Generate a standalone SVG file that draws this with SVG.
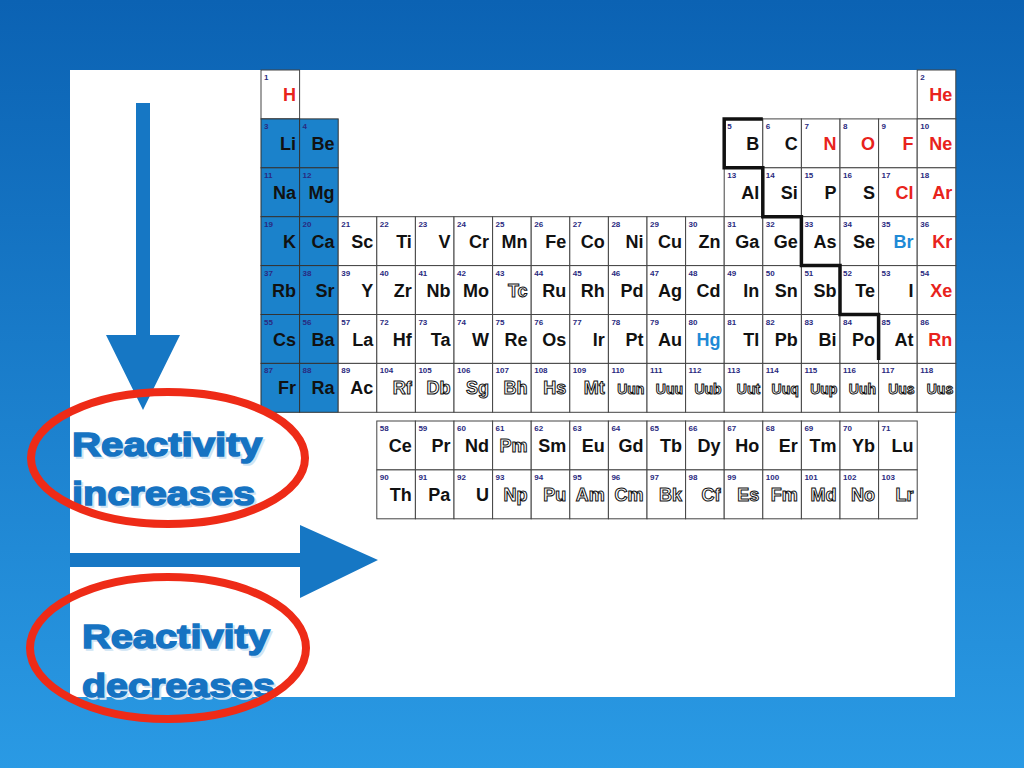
<svg xmlns="http://www.w3.org/2000/svg" width="1024" height="768" viewBox="0 0 1024 768">
<defs>
<linearGradient id="bg" x1="0" y1="0" x2="0" y2="1"><stop offset="0" stop-color="#0b62b3"/><stop offset="1" stop-color="#2a9ae4"/></linearGradient>
<style>
.c{fill:#fff;stroke:#444;stroke-width:1}
.b{fill:#1b82cb;stroke:#333;stroke-width:1}
.n{font-family:"Liberation Sans",Arial,sans-serif;font-size:8px;font-weight:bold;fill:#2a2a80}
.s{font-family:"Liberation Sans Narrow","Liberation Sans",Arial,sans-serif;font-size:18px;font-weight:bold;fill:#111;text-anchor:end}
.r{fill:#e8231c}.l{fill:#1f8ad6}
.o{fill:#fff;stroke:#111;stroke-width:1}
.t{font-size:14px}
.big{font-family:"Liberation Sans",Arial,sans-serif;font-size:34px;font-weight:900;fill:#1673c2;stroke:#1673c2;stroke-width:1.5}
.sh{font-family:"Liberation Sans",Arial,sans-serif;font-size:34px;font-weight:900;fill:#cfe4f4;stroke:#cfe4f4;stroke-width:1.5}
</style>
</defs>
<rect width="1024" height="768" fill="url(#bg)"/>
<rect x="70" y="70" width="885" height="627" fill="#fff"/>
<g id="table">
<g id="H" transform="translate(261,70)"><rect class="c" width="38.6" height="48.9"/><text class="n" x="3" y="10">1</text><text class="s r" x="35" y="31">H</text></g>
<g id="He" transform="translate(917.2,70)"><rect class="c" width="38.6" height="48.9"/><text class="n" x="3" y="10">2</text><text class="s r" x="35" y="31">He</text></g>
<g id="Li" transform="translate(261,118.9)"><rect class="b" width="38.6" height="48.9"/><text class="n" x="3" y="10">3</text><text class="s" x="35" y="31">Li</text></g>
<g id="Be" transform="translate(299.6,118.9)"><rect class="b" width="38.6" height="48.9"/><text class="n" x="3" y="10">4</text><text class="s" x="35" y="31">Be</text></g>
<g id="B" transform="translate(724.2,118.9)"><rect class="c" width="38.6" height="48.9"/><text class="n" x="3" y="10">5</text><text class="s" x="35" y="31">B</text></g>
<g id="C" transform="translate(762.8,118.9)"><rect class="c" width="38.6" height="48.9"/><text class="n" x="3" y="10">6</text><text class="s" x="35" y="31">C</text></g>
<g id="N" transform="translate(801.4,118.9)"><rect class="c" width="38.6" height="48.9"/><text class="n" x="3" y="10">7</text><text class="s r" x="35" y="31">N</text></g>
<g id="O" transform="translate(840,118.9)"><rect class="c" width="38.6" height="48.9"/><text class="n" x="3" y="10">8</text><text class="s r" x="35" y="31">O</text></g>
<g id="F" transform="translate(878.6,118.9)"><rect class="c" width="38.6" height="48.9"/><text class="n" x="3" y="10">9</text><text class="s r" x="35" y="31">F</text></g>
<g id="Ne" transform="translate(917.2,118.9)"><rect class="c" width="38.6" height="48.9"/><text class="n" x="3" y="10">10</text><text class="s r" x="35" y="31">Ne</text></g>
<g id="Na" transform="translate(261,167.8)"><rect class="b" width="38.6" height="48.9"/><text class="n" x="3" y="10">11</text><text class="s" x="35" y="31">Na</text></g>
<g id="Mg" transform="translate(299.6,167.8)"><rect class="b" width="38.6" height="48.9"/><text class="n" x="3" y="10">12</text><text class="s" x="35" y="31">Mg</text></g>
<g id="Al" transform="translate(724.2,167.8)"><rect class="c" width="38.6" height="48.9"/><text class="n" x="3" y="10">13</text><text class="s" x="35" y="31">Al</text></g>
<g id="Si" transform="translate(762.8,167.8)"><rect class="c" width="38.6" height="48.9"/><text class="n" x="3" y="10">14</text><text class="s" x="35" y="31">Si</text></g>
<g id="P" transform="translate(801.4,167.8)"><rect class="c" width="38.6" height="48.9"/><text class="n" x="3" y="10">15</text><text class="s" x="35" y="31">P</text></g>
<g id="S" transform="translate(840,167.8)"><rect class="c" width="38.6" height="48.9"/><text class="n" x="3" y="10">16</text><text class="s" x="35" y="31">S</text></g>
<g id="Cl" transform="translate(878.6,167.8)"><rect class="c" width="38.6" height="48.9"/><text class="n" x="3" y="10">17</text><text class="s r" x="35" y="31">Cl</text></g>
<g id="Ar" transform="translate(917.2,167.8)"><rect class="c" width="38.6" height="48.9"/><text class="n" x="3" y="10">18</text><text class="s r" x="35" y="31">Ar</text></g>
<g id="K" transform="translate(261,216.7)"><rect class="b" width="38.6" height="48.9"/><text class="n" x="3" y="10">19</text><text class="s" x="35" y="31">K</text></g>
<g id="Ca" transform="translate(299.6,216.7)"><rect class="b" width="38.6" height="48.9"/><text class="n" x="3" y="10">20</text><text class="s" x="35" y="31">Ca</text></g>
<g id="Sc" transform="translate(338.2,216.7)"><rect class="c" width="38.6" height="48.9"/><text class="n" x="3" y="10">21</text><text class="s" x="35" y="31">Sc</text></g>
<g id="Ti" transform="translate(376.8,216.7)"><rect class="c" width="38.6" height="48.9"/><text class="n" x="3" y="10">22</text><text class="s" x="35" y="31">Ti</text></g>
<g id="V" transform="translate(415.4,216.7)"><rect class="c" width="38.6" height="48.9"/><text class="n" x="3" y="10">23</text><text class="s" x="35" y="31">V</text></g>
<g id="Cr" transform="translate(454,216.7)"><rect class="c" width="38.6" height="48.9"/><text class="n" x="3" y="10">24</text><text class="s" x="35" y="31">Cr</text></g>
<g id="Mn" transform="translate(492.6,216.7)"><rect class="c" width="38.6" height="48.9"/><text class="n" x="3" y="10">25</text><text class="s" x="35" y="31">Mn</text></g>
<g id="Fe" transform="translate(531.2,216.7)"><rect class="c" width="38.6" height="48.9"/><text class="n" x="3" y="10">26</text><text class="s" x="35" y="31">Fe</text></g>
<g id="Co" transform="translate(569.8,216.7)"><rect class="c" width="38.6" height="48.9"/><text class="n" x="3" y="10">27</text><text class="s" x="35" y="31">Co</text></g>
<g id="Ni" transform="translate(608.4,216.7)"><rect class="c" width="38.6" height="48.9"/><text class="n" x="3" y="10">28</text><text class="s" x="35" y="31">Ni</text></g>
<g id="Cu" transform="translate(647,216.7)"><rect class="c" width="38.6" height="48.9"/><text class="n" x="3" y="10">29</text><text class="s" x="35" y="31">Cu</text></g>
<g id="Zn" transform="translate(685.6,216.7)"><rect class="c" width="38.6" height="48.9"/><text class="n" x="3" y="10">30</text><text class="s" x="35" y="31">Zn</text></g>
<g id="Ga" transform="translate(724.2,216.7)"><rect class="c" width="38.6" height="48.9"/><text class="n" x="3" y="10">31</text><text class="s" x="35" y="31">Ga</text></g>
<g id="Ge" transform="translate(762.8,216.7)"><rect class="c" width="38.6" height="48.9"/><text class="n" x="3" y="10">32</text><text class="s" x="35" y="31">Ge</text></g>
<g id="As" transform="translate(801.4,216.7)"><rect class="c" width="38.6" height="48.9"/><text class="n" x="3" y="10">33</text><text class="s" x="35" y="31">As</text></g>
<g id="Se" transform="translate(840,216.7)"><rect class="c" width="38.6" height="48.9"/><text class="n" x="3" y="10">34</text><text class="s" x="35" y="31">Se</text></g>
<g id="Br" transform="translate(878.6,216.7)"><rect class="c" width="38.6" height="48.9"/><text class="n" x="3" y="10">35</text><text class="s l" x="35" y="31">Br</text></g>
<g id="Kr" transform="translate(917.2,216.7)"><rect class="c" width="38.6" height="48.9"/><text class="n" x="3" y="10">36</text><text class="s r" x="35" y="31">Kr</text></g>
<g id="Rb" transform="translate(261,265.6)"><rect class="b" width="38.6" height="48.9"/><text class="n" x="3" y="10">37</text><text class="s" x="35" y="31">Rb</text></g>
<g id="Sr" transform="translate(299.6,265.6)"><rect class="b" width="38.6" height="48.9"/><text class="n" x="3" y="10">38</text><text class="s" x="35" y="31">Sr</text></g>
<g id="Y" transform="translate(338.2,265.6)"><rect class="c" width="38.6" height="48.9"/><text class="n" x="3" y="10">39</text><text class="s" x="35" y="31">Y</text></g>
<g id="Zr" transform="translate(376.8,265.6)"><rect class="c" width="38.6" height="48.9"/><text class="n" x="3" y="10">40</text><text class="s" x="35" y="31">Zr</text></g>
<g id="Nb" transform="translate(415.4,265.6)"><rect class="c" width="38.6" height="48.9"/><text class="n" x="3" y="10">41</text><text class="s" x="35" y="31">Nb</text></g>
<g id="Mo" transform="translate(454,265.6)"><rect class="c" width="38.6" height="48.9"/><text class="n" x="3" y="10">42</text><text class="s" x="35" y="31">Mo</text></g>
<g id="Tc" transform="translate(492.6,265.6)"><rect class="c" width="38.6" height="48.9"/><text class="n" x="3" y="10">43</text><text class="s o" x="35" y="31">Tc</text></g>
<g id="Ru" transform="translate(531.2,265.6)"><rect class="c" width="38.6" height="48.9"/><text class="n" x="3" y="10">44</text><text class="s" x="35" y="31">Ru</text></g>
<g id="Rh" transform="translate(569.8,265.6)"><rect class="c" width="38.6" height="48.9"/><text class="n" x="3" y="10">45</text><text class="s" x="35" y="31">Rh</text></g>
<g id="Pd" transform="translate(608.4,265.6)"><rect class="c" width="38.6" height="48.9"/><text class="n" x="3" y="10">46</text><text class="s" x="35" y="31">Pd</text></g>
<g id="Ag" transform="translate(647,265.6)"><rect class="c" width="38.6" height="48.9"/><text class="n" x="3" y="10">47</text><text class="s" x="35" y="31">Ag</text></g>
<g id="Cd" transform="translate(685.6,265.6)"><rect class="c" width="38.6" height="48.9"/><text class="n" x="3" y="10">48</text><text class="s" x="35" y="31">Cd</text></g>
<g id="In" transform="translate(724.2,265.6)"><rect class="c" width="38.6" height="48.9"/><text class="n" x="3" y="10">49</text><text class="s" x="35" y="31">In</text></g>
<g id="Sn" transform="translate(762.8,265.6)"><rect class="c" width="38.6" height="48.9"/><text class="n" x="3" y="10">50</text><text class="s" x="35" y="31">Sn</text></g>
<g id="Sb" transform="translate(801.4,265.6)"><rect class="c" width="38.6" height="48.9"/><text class="n" x="3" y="10">51</text><text class="s" x="35" y="31">Sb</text></g>
<g id="Te" transform="translate(840,265.6)"><rect class="c" width="38.6" height="48.9"/><text class="n" x="3" y="10">52</text><text class="s" x="35" y="31">Te</text></g>
<g id="I" transform="translate(878.6,265.6)"><rect class="c" width="38.6" height="48.9"/><text class="n" x="3" y="10">53</text><text class="s" x="35" y="31">I</text></g>
<g id="Xe" transform="translate(917.2,265.6)"><rect class="c" width="38.6" height="48.9"/><text class="n" x="3" y="10">54</text><text class="s r" x="35" y="31">Xe</text></g>
<g id="Cs" transform="translate(261,314.5)"><rect class="b" width="38.6" height="48.9"/><text class="n" x="3" y="10">55</text><text class="s" x="35" y="31">Cs</text></g>
<g id="Ba" transform="translate(299.6,314.5)"><rect class="b" width="38.6" height="48.9"/><text class="n" x="3" y="10">56</text><text class="s" x="35" y="31">Ba</text></g>
<g id="La" transform="translate(338.2,314.5)"><rect class="c" width="38.6" height="48.9"/><text class="n" x="3" y="10">57</text><text class="s" x="35" y="31">La</text></g>
<g id="Hf" transform="translate(376.8,314.5)"><rect class="c" width="38.6" height="48.9"/><text class="n" x="3" y="10">72</text><text class="s" x="35" y="31">Hf</text></g>
<g id="Ta" transform="translate(415.4,314.5)"><rect class="c" width="38.6" height="48.9"/><text class="n" x="3" y="10">73</text><text class="s" x="35" y="31">Ta</text></g>
<g id="W" transform="translate(454,314.5)"><rect class="c" width="38.6" height="48.9"/><text class="n" x="3" y="10">74</text><text class="s" x="35" y="31">W</text></g>
<g id="Re" transform="translate(492.6,314.5)"><rect class="c" width="38.6" height="48.9"/><text class="n" x="3" y="10">75</text><text class="s" x="35" y="31">Re</text></g>
<g id="Os" transform="translate(531.2,314.5)"><rect class="c" width="38.6" height="48.9"/><text class="n" x="3" y="10">76</text><text class="s" x="35" y="31">Os</text></g>
<g id="Ir" transform="translate(569.8,314.5)"><rect class="c" width="38.6" height="48.9"/><text class="n" x="3" y="10">77</text><text class="s" x="35" y="31">Ir</text></g>
<g id="Pt" transform="translate(608.4,314.5)"><rect class="c" width="38.6" height="48.9"/><text class="n" x="3" y="10">78</text><text class="s" x="35" y="31">Pt</text></g>
<g id="Au" transform="translate(647,314.5)"><rect class="c" width="38.6" height="48.9"/><text class="n" x="3" y="10">79</text><text class="s" x="35" y="31">Au</text></g>
<g id="Hg" transform="translate(685.6,314.5)"><rect class="c" width="38.6" height="48.9"/><text class="n" x="3" y="10">80</text><text class="s l" x="35" y="31">Hg</text></g>
<g id="Tl" transform="translate(724.2,314.5)"><rect class="c" width="38.6" height="48.9"/><text class="n" x="3" y="10">81</text><text class="s" x="35" y="31">Tl</text></g>
<g id="Pb" transform="translate(762.8,314.5)"><rect class="c" width="38.6" height="48.9"/><text class="n" x="3" y="10">82</text><text class="s" x="35" y="31">Pb</text></g>
<g id="Bi" transform="translate(801.4,314.5)"><rect class="c" width="38.6" height="48.9"/><text class="n" x="3" y="10">83</text><text class="s" x="35" y="31">Bi</text></g>
<g id="Po" transform="translate(840,314.5)"><rect class="c" width="38.6" height="48.9"/><text class="n" x="3" y="10">84</text><text class="s" x="35" y="31">Po</text></g>
<g id="At" transform="translate(878.6,314.5)"><rect class="c" width="38.6" height="48.9"/><text class="n" x="3" y="10">85</text><text class="s" x="35" y="31">At</text></g>
<g id="Rn" transform="translate(917.2,314.5)"><rect class="c" width="38.6" height="48.9"/><text class="n" x="3" y="10">86</text><text class="s r" x="35" y="31">Rn</text></g>
<g id="Fr" transform="translate(261,363.4)"><rect class="b" width="38.6" height="48.9"/><text class="n" x="3" y="10">87</text><text class="s" x="35" y="31">Fr</text></g>
<g id="Ra" transform="translate(299.6,363.4)"><rect class="b" width="38.6" height="48.9"/><text class="n" x="3" y="10">88</text><text class="s" x="35" y="31">Ra</text></g>
<g id="Ac" transform="translate(338.2,363.4)"><rect class="c" width="38.6" height="48.9"/><text class="n" x="3" y="10">89</text><text class="s" x="35" y="31">Ac</text></g>
<g id="Rf" transform="translate(376.8,363.4)"><rect class="c" width="38.6" height="48.9"/><text class="n" x="3" y="10">104</text><text class="s o" x="35" y="31">Rf</text></g>
<g id="Db" transform="translate(415.4,363.4)"><rect class="c" width="38.6" height="48.9"/><text class="n" x="3" y="10">105</text><text class="s o" x="35" y="31">Db</text></g>
<g id="Sg" transform="translate(454,363.4)"><rect class="c" width="38.6" height="48.9"/><text class="n" x="3" y="10">106</text><text class="s o" x="35" y="31">Sg</text></g>
<g id="Bh" transform="translate(492.6,363.4)"><rect class="c" width="38.6" height="48.9"/><text class="n" x="3" y="10">107</text><text class="s o" x="35" y="31">Bh</text></g>
<g id="Hs" transform="translate(531.2,363.4)"><rect class="c" width="38.6" height="48.9"/><text class="n" x="3" y="10">108</text><text class="s o" x="35" y="31">Hs</text></g>
<g id="Mt" transform="translate(569.8,363.4)"><rect class="c" width="38.6" height="48.9"/><text class="n" x="3" y="10">109</text><text class="s o" x="35" y="31">Mt</text></g>
<g id="Uun" transform="translate(608.4,363.4)"><rect class="c" width="38.6" height="48.9"/><text class="n" x="3" y="10">110</text><text class="s o t" x="36" y="31">Uun</text></g>
<g id="Uuu" transform="translate(647,363.4)"><rect class="c" width="38.6" height="48.9"/><text class="n" x="3" y="10">111</text><text class="s o t" x="36" y="31">Uuu</text></g>
<g id="Uub" transform="translate(685.6,363.4)"><rect class="c" width="38.6" height="48.9"/><text class="n" x="3" y="10">112</text><text class="s o t" x="36" y="31">Uub</text></g>
<g id="Uut" transform="translate(724.2,363.4)"><rect class="c" width="38.6" height="48.9"/><text class="n" x="3" y="10">113</text><text class="s o t" x="36" y="31">Uut</text></g>
<g id="Uuq" transform="translate(762.8,363.4)"><rect class="c" width="38.6" height="48.9"/><text class="n" x="3" y="10">114</text><text class="s o t" x="36" y="31">Uuq</text></g>
<g id="Uup" transform="translate(801.4,363.4)"><rect class="c" width="38.6" height="48.9"/><text class="n" x="3" y="10">115</text><text class="s o t" x="36" y="31">Uup</text></g>
<g id="Uuh" transform="translate(840,363.4)"><rect class="c" width="38.6" height="48.9"/><text class="n" x="3" y="10">116</text><text class="s o t" x="36" y="31">Uuh</text></g>
<g id="Uus" transform="translate(878.6,363.4)"><rect class="c" width="38.6" height="48.9"/><text class="n" x="3" y="10">117</text><text class="s o t" x="36" y="31">Uus</text></g>
<g id="Uuo" transform="translate(917.2,363.4)"><rect class="c" width="38.6" height="48.9"/><text class="n" x="3" y="10">118</text><text class="s o t" x="36" y="31">Uus</text></g>
<g id="Ce" transform="translate(376.8,421)"><rect class="c" width="38.6" height="48.9"/><text class="n" x="3" y="10">58</text><text class="s" x="35" y="31">Ce</text></g>
<g id="Pr" transform="translate(415.4,421)"><rect class="c" width="38.6" height="48.9"/><text class="n" x="3" y="10">59</text><text class="s" x="35" y="31">Pr</text></g>
<g id="Nd" transform="translate(454,421)"><rect class="c" width="38.6" height="48.9"/><text class="n" x="3" y="10">60</text><text class="s" x="35" y="31">Nd</text></g>
<g id="Pm" transform="translate(492.6,421)"><rect class="c" width="38.6" height="48.9"/><text class="n" x="3" y="10">61</text><text class="s o" x="35" y="31">Pm</text></g>
<g id="Sm" transform="translate(531.2,421)"><rect class="c" width="38.6" height="48.9"/><text class="n" x="3" y="10">62</text><text class="s" x="35" y="31">Sm</text></g>
<g id="Eu" transform="translate(569.8,421)"><rect class="c" width="38.6" height="48.9"/><text class="n" x="3" y="10">63</text><text class="s" x="35" y="31">Eu</text></g>
<g id="Gd" transform="translate(608.4,421)"><rect class="c" width="38.6" height="48.9"/><text class="n" x="3" y="10">64</text><text class="s" x="35" y="31">Gd</text></g>
<g id="Tb" transform="translate(647,421)"><rect class="c" width="38.6" height="48.9"/><text class="n" x="3" y="10">65</text><text class="s" x="35" y="31">Tb</text></g>
<g id="Dy" transform="translate(685.6,421)"><rect class="c" width="38.6" height="48.9"/><text class="n" x="3" y="10">66</text><text class="s" x="35" y="31">Dy</text></g>
<g id="Ho" transform="translate(724.2,421)"><rect class="c" width="38.6" height="48.9"/><text class="n" x="3" y="10">67</text><text class="s" x="35" y="31">Ho</text></g>
<g id="Er" transform="translate(762.8,421)"><rect class="c" width="38.6" height="48.9"/><text class="n" x="3" y="10">68</text><text class="s" x="35" y="31">Er</text></g>
<g id="Tm" transform="translate(801.4,421)"><rect class="c" width="38.6" height="48.9"/><text class="n" x="3" y="10">69</text><text class="s" x="35" y="31">Tm</text></g>
<g id="Yb" transform="translate(840,421)"><rect class="c" width="38.6" height="48.9"/><text class="n" x="3" y="10">70</text><text class="s" x="35" y="31">Yb</text></g>
<g id="Lu" transform="translate(878.6,421)"><rect class="c" width="38.6" height="48.9"/><text class="n" x="3" y="10">71</text><text class="s" x="35" y="31">Lu</text></g>
<g id="Th" transform="translate(376.8,469.9)"><rect class="c" width="38.6" height="48.9"/><text class="n" x="3" y="10">90</text><text class="s" x="35" y="31">Th</text></g>
<g id="Pa" transform="translate(415.4,469.9)"><rect class="c" width="38.6" height="48.9"/><text class="n" x="3" y="10">91</text><text class="s" x="35" y="31">Pa</text></g>
<g id="U" transform="translate(454,469.9)"><rect class="c" width="38.6" height="48.9"/><text class="n" x="3" y="10">92</text><text class="s" x="35" y="31">U</text></g>
<g id="Np" transform="translate(492.6,469.9)"><rect class="c" width="38.6" height="48.9"/><text class="n" x="3" y="10">93</text><text class="s o" x="35" y="31">Np</text></g>
<g id="Pu" transform="translate(531.2,469.9)"><rect class="c" width="38.6" height="48.9"/><text class="n" x="3" y="10">94</text><text class="s o" x="35" y="31">Pu</text></g>
<g id="Am" transform="translate(569.8,469.9)"><rect class="c" width="38.6" height="48.9"/><text class="n" x="3" y="10">95</text><text class="s o" x="35" y="31">Am</text></g>
<g id="Cm" transform="translate(608.4,469.9)"><rect class="c" width="38.6" height="48.9"/><text class="n" x="3" y="10">96</text><text class="s o" x="35" y="31">Cm</text></g>
<g id="Bk" transform="translate(647,469.9)"><rect class="c" width="38.6" height="48.9"/><text class="n" x="3" y="10">97</text><text class="s o" x="35" y="31">Bk</text></g>
<g id="Cf" transform="translate(685.6,469.9)"><rect class="c" width="38.6" height="48.9"/><text class="n" x="3" y="10">98</text><text class="s o" x="35" y="31">Cf</text></g>
<g id="Es" transform="translate(724.2,469.9)"><rect class="c" width="38.6" height="48.9"/><text class="n" x="3" y="10">99</text><text class="s o" x="35" y="31">Es</text></g>
<g id="Fm" transform="translate(762.8,469.9)"><rect class="c" width="38.6" height="48.9"/><text class="n" x="3" y="10">100</text><text class="s o" x="35" y="31">Fm</text></g>
<g id="Md" transform="translate(801.4,469.9)"><rect class="c" width="38.6" height="48.9"/><text class="n" x="3" y="10">101</text><text class="s o" x="35" y="31">Md</text></g>
<g id="No" transform="translate(840,469.9)"><rect class="c" width="38.6" height="48.9"/><text class="n" x="3" y="10">102</text><text class="s o" x="35" y="31">No</text></g>
<g id="Lr" transform="translate(878.6,469.9)"><rect class="c" width="38.6" height="48.9"/><text class="n" x="3" y="10">103</text><text class="s o" x="35" y="31">Lr</text></g>
<path id="staircase" d="M762.8,118.9 H724.2 V167.8 H762.8 V216.7 H801.4 V265.6 H840 V314.5 H878.6 V360" fill="none" stroke="#111" stroke-width="3.5"/>
</g>
<g id="connectors" fill="#1677c4">
<path d="M136,103 H150 V335 H180 L143,410 L106,335 H136 Z"/>
<path d="M70,553 H300 V525 L378,560 L300,598 V567 H70 Z"/>
</g>
<g id="label-increase">
<text class="sh" x="74" y="458" textLength="190" lengthAdjust="spacingAndGlyphs">Reactivity</text>
<text class="big" x="72" y="456" textLength="190" lengthAdjust="spacingAndGlyphs">Reactivity</text>
<text class="sh" x="74" y="507" textLength="183" lengthAdjust="spacingAndGlyphs">increases</text>
<text class="big" x="72" y="505" textLength="183" lengthAdjust="spacingAndGlyphs">increases</text>
<ellipse cx="168" cy="458" rx="137" ry="66" fill="none" stroke="#ee2b17" stroke-width="8"/>
</g>
<g id="label-decrease">
<text class="sh" x="84" y="650" textLength="188" lengthAdjust="spacingAndGlyphs">Reactivity</text>
<text class="big" x="82" y="648" textLength="188" lengthAdjust="spacingAndGlyphs">Reactivity</text>
<text class="sh" x="84" y="699" textLength="193" lengthAdjust="spacingAndGlyphs">decreases</text>
<text class="big" x="82" y="697" textLength="193" lengthAdjust="spacingAndGlyphs">decreases</text>
<ellipse cx="168" cy="648" rx="138" ry="71" fill="none" stroke="#ee2b17" stroke-width="8"/>
</g>
</svg>
